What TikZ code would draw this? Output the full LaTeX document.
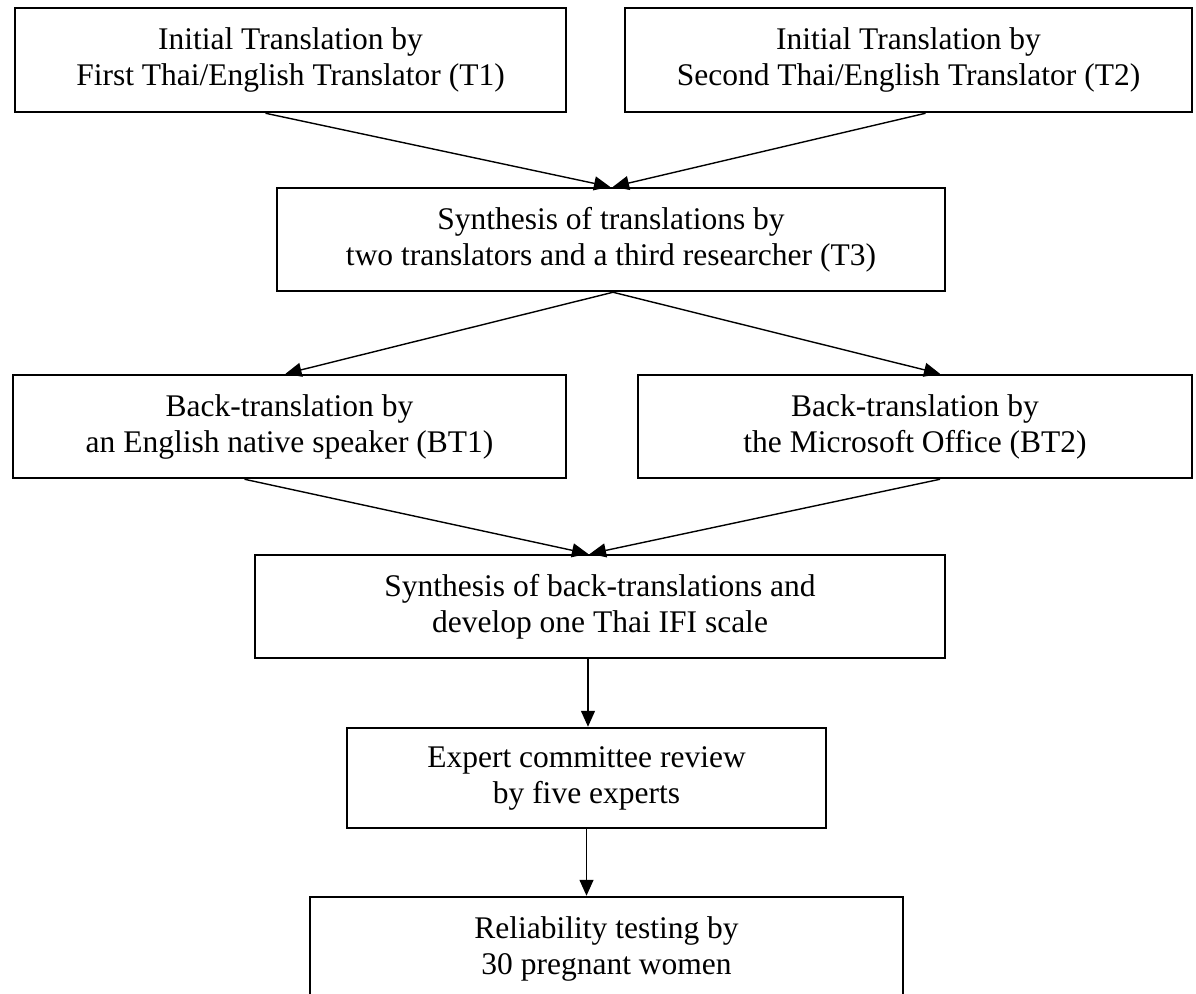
\documentclass[tikz,border=0pt]{standalone}
\usepackage{fontspec}
\setmainfont{Liberation Serif}
\usetikzlibrary{arrows.meta}

\begin{document}
\begin{tikzpicture}[x=1pt, y=-1pt,
        stage/.style={draw, line width=2.5pt, align=center, inner sep=0pt, minimum height=104pt,
                      font=\fontsize{31.5}{36}\selectfont},
        flow/.style={line width=1.4pt, -{Triangle[length=16pt, width=14pt]}}]
        \useasboundingbox (0, 0) rectangle (1196, 993);

        \node[stage, minimum width=551pt] (t1)  at (290.5,  60)   {Initial Translation by\\First Thai/English Translator (T1)};
        \node[stage, minimum width=567pt] (t2)  at (908.5,  60)   {Initial Translation by\\Second Thai/English Translator (T2)};
        \node[stage, minimum width=668pt, minimum height=103pt] (t3)  at (611, 239.5)  {Synthesis of translations by\\two translators and a third researcher (T3)};
        \node[stage, minimum width=553pt, minimum height=103pt] (bt1) at (289.5, 426.5) {Back-translation by\\an English native speaker (BT1)};
        \node[stage, minimum width=554pt, minimum height=103pt] (bt2) at (915, 426.5)   {Back-translation by\\the Microsoft Office (BT2)};
        \node[stage, minimum width=690pt, minimum height=103pt] (syn) at (600, 606.5)   {Synthesis of back-translations and\\develop one Thai IFI scale};
        \node[stage, minimum width=479pt, minimum height=100pt] (exp) at (586.5, 778)   {Expert committee review\\by five experts};
        \node[stage, minimum width=593pt] (rel) at (606.5, 949)   {Reliability testing by\\30 pregnant women};

        \draw[flow] ([xshift=-25pt]t1.south)  -- ([xshift=-1pt]t3.north);
        \draw[flow] ([xshift=17pt]t2.south)   -- ([xshift=2pt]t3.north);
        \draw[flow] ([xshift=2pt]t3.south)    -- ([xshift=-4pt]bt1.north);
        \draw[flow] ([xshift=2pt]t3.south)    -- ([xshift=25pt]bt2.north);
        \draw[flow] ([xshift=-45pt]bt1.south) -- ([xshift=-12pt]syn.north);
        \draw[flow] ([xshift=25pt]bt2.south)  -- ([xshift=-10pt]syn.north);
        \draw[flow] ([xshift=-12pt]syn.south) -- ([xshift=1.5pt]exp.north);
        \draw[flow] (exp.south)               -- (exp.south |- rel.north);
    \end{tikzpicture}
\end{document}
